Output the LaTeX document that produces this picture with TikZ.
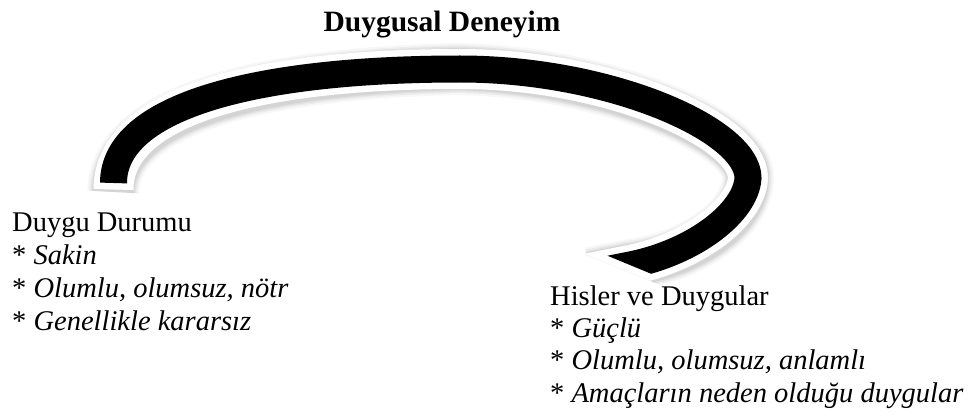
\documentclass[tikz,border=0pt]{standalone}
\usepackage{fontspec}
\setmainfont{Liberation Serif}
\usetikzlibrary{calc}
\begin{document}
\begin{tikzpicture}[x=1pt,y=-1pt,
  txt/.style={anchor=base west, inner sep=0pt, font=\fontsize{28.5}{33}\selectfont},
  itm/.style={txt, font=\fontsize{28.5}{33}\selectfont\itshape},
  ttl/.style={anchor=base, inner sep=0pt, font=\fontsize{29.5}{33}\selectfont\bfseries},
  ribbonshadow/.style={black, line width=#1, shift={(2,4)}, shorten <=-9pt},
  ribbonedge/.style={white, line width=40pt, shorten <=-6.5pt},
  ribboncore/.style={black, line width=27pt}]
\useasboundingbox (0,0) rectangle (976,417);

% way points of the curved band
\coordinate (pA) at (113.5,183);
\coordinate (pB) at (460,69);
\coordinate (pC) at (748,178);
\coordinate (pD) at (630,265);
\coordinate (pE) at (590,273);
\newcommand\ribbonpath{(pA) .. controls (113.5,105) and (260,69) .. (pB)
  .. controls (610,69) and (748,130) .. (pC)
  .. controls (746,212) and (695,252) .. (pD) -- (pE)}

% oblique cut at the free end of the band
\coordinate (cutA) at (590,248.5);
\coordinate (cutB) at (680,285.7);
\newcommand\cutclip[1]{%
  \clip (0,0) rectangle (976,417)
    ($(cutA)+(#1)$) -- ($(cutB)+(#1)$) -- ($(cutB)+(#1)+(-23,56)$) -- ($(cutA)+(#1)+(-23,56)$) -- cycle;}

% soft drop shadow and white rim
\begin{scope}[even odd rule]
  \cutclip{-2.7,6.5}
  \foreach \w/\o in {52/0.03, 48/0.04, 45/0.05, 42/0.06}{
    \draw[ribbonshadow=\w pt, opacity=\o] \ribbonpath;
  }
  \draw[ribbonedge] \ribbonpath;
\end{scope}
% black band
\begin{scope}[even odd rule]
  \cutclip{0,0}
  \draw[ribboncore] \ribbonpath;
\end{scope}

% title
\node[ttl] (title) at (442,32) {Duygusal Deneyim};

% left block
\node[txt] (l0) at (12,231) {Duygu Durumu};
\node[itm] (l1) at (12,264) {{\upshape*} Sakin};
\node[itm] (l2) at (12,297) {{\upshape*} Olumlu, olumsuz, nötr};
\node[itm] (l3) at (12,330) {{\upshape*} Genellikle kararsız};

% right block
\node[txt] (r0) at (550,305) {Hisler ve Duygular};
\node[itm] (r1) at (550,337) {{\upshape*} Güçlü};
\node[itm] (r2) at (550,369.5) {{\upshape*} Olumlu, olumsuz, anlamlı};
\node[itm] (r3) at (550,402) {{\upshape*} Amaçların neden olduğu duygular};
\end{tikzpicture}
\end{document}
